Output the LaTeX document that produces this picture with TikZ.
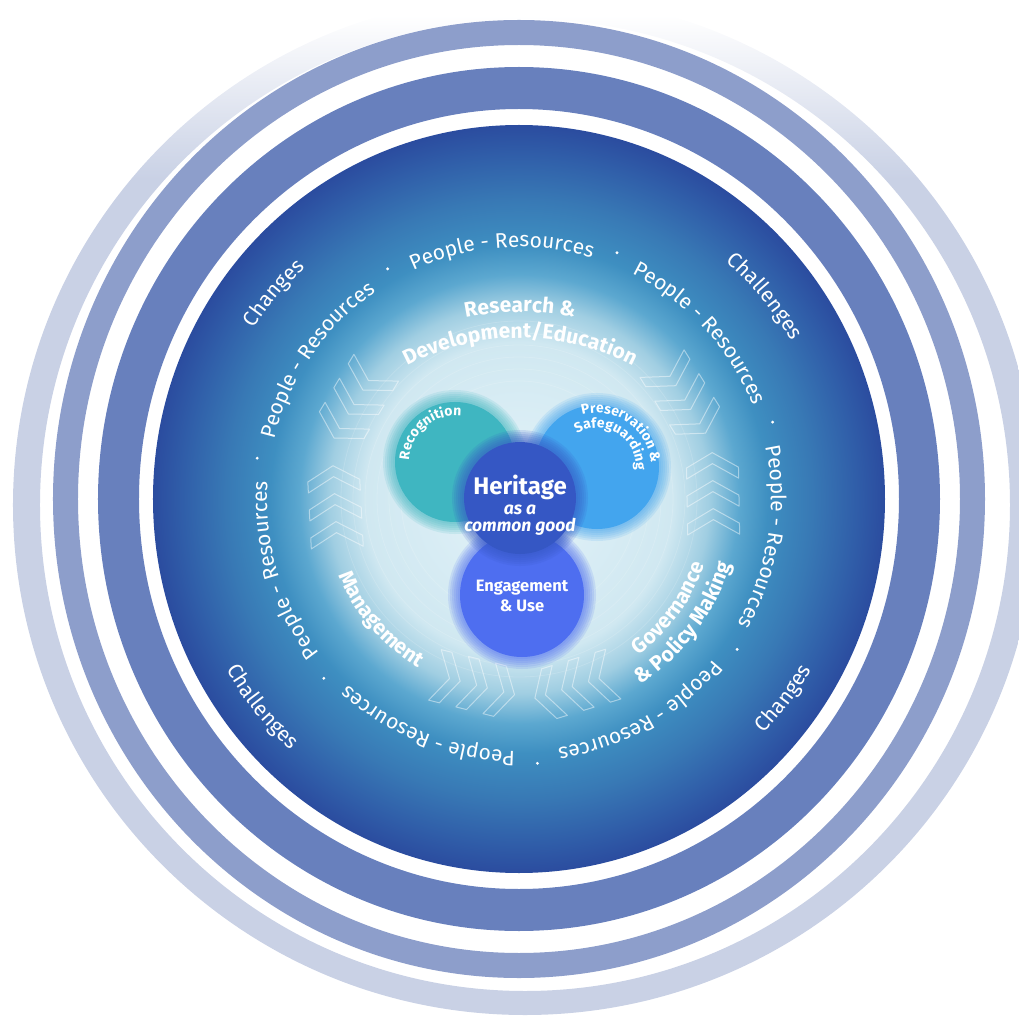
\documentclass[tikz,border=0pt]{standalone}
\usepackage{fontspec}
\setmainfont{Fira Sans}
\usepackage{tikz}
\usetikzlibrary{decorations.text,positioning}
\usepackage{xcolor}
\definecolor{hcpale}{RGB}{201,209,229}
\definecolor{hclight}{RGB}{141,158,203}
\definecolor{hcmid}{RGB}{104,128,189}
\definecolor{hcdark}{RGB}{43,76,159}
\definecolor{hcdeep}{RGB}{48,94,169}
\definecolor{hcsea}{RGB}{56,121,181}
\definecolor{hcocean}{RGB}{62,143,193}
\definecolor{hcwave}{RGB}{92,168,208}
\definecolor{hcmist}{RGB}{160,206,226}
\definecolor{hcfog}{RGB}{208,232,241}
\definecolor{hccore}{RGB}{228,243,249}
\definecolor{hcteal}{RGB}{63,182,193}
\definecolor{hcsky}{RGB}{67,165,238}
\definecolor{hcroyal}{RGB}{53,87,196}
\definecolor{hcperi}{RGB}{78,110,240}
\pgfdeclareradialshading{discglow}{\pgfpointorigin}{color(0bp)=(hccore); color(10.5bp)=(hcfog); color(13bp)=(hcmist); color(15bp)=(hcwave); color(17bp)=(hcocean); color(20bp)=(hcsea); color(23bp)=(hcdeep); color(25bp)=(hcdark); color(50bp)=(hcdark)}
\pgfdeclareverticalshading{ringfade}{100bp}{color(0bp)=(hcpale); color(66bp)=(hcpale); color(74bp)=(white); color(100bp)=(white)}
\newcommand{\ringfont}{\fontsize{21}{25}\selectfont}
\newcommand{\labfont}{\bfseries\fontsize{21}{25}\selectfont}
\newcommand{\venfont}{\bfseries\fontsize{14}{16}\selectfont}
\tikzstyle{chevline} = [draw=white, draw opacity=.45, line width=1pt, line join=round]
\tikzstyle{midtext} = [text=white, inner sep=0pt]
\tikzset{arctext/.style={decorate, decoration={text along path, text align=center, text color=white, text={#1}}}}
\newcommand{\chevrons}[3]{%
  \begin{scope}[shift={(#1:#2)}, rotate=#3]
    \foreach \s in {-28,0,28}
      \draw[chevline, xshift=\s pt] (-11,-26) -- (0,-26) -- (15,0) -- (0,26) -- (-11,26) -- (4,0) -- cycle;
  \end{scope}}
\newcommand{\softdisc}[3]{%
  \foreach \k in {12,10,...,2}
    \fill[#1, opacity=.14] (#2) circle (#3+\k);
  \fill[#1] (#2) circle (#3);}

\begin{document}
\begin{tikzpicture}[x=1pt, y=1pt]
\useasboundingbox (-519,-521) rectangle (499,499);
% Rings
\shade[shading=ringfade, even odd rule] (6,-6) ellipse [x radius=512pt, y radius=510pt] (6,-6) ellipse [x radius=485pt, y radius=486pt];
\fill[hclight, even odd rule] (0,0) ellipse [x radius=466pt, y radius=479pt] (0,0) ellipse [x radius=441pt, y radius=454pt];
\fill[hcmid, even odd rule] (0,0) ellipse [x radius=421pt, y radius=432pt] (0,0) ellipse [x radius=380pt, y radius=390pt];
\shade[shading=discglow] (0,0) ellipse [x radius=366pt, y radius=374pt];
\foreach \r in {118,130,...,178}
  \draw[white, opacity=.15, line width=.8pt] (0,0) circle (\r pt);

% People - Resources
\foreach \a in {94,42.57,-8.86,-60.29,-111.71,-163.14,145.43}
  \path[arctext={|\ringfont|People - Resources}] (\a+30:252pt) arc [start angle=\a+30, end angle=\a-30, radius=252pt];
\foreach \a in {119.71,68.29,16.86,-34.57,-86,-137.43,171.14}
  \fill[white] (\a:265pt) circle (1.6pt);

% Changes and challenges
\path[arctext={|\ringfont|Changes}] (160:315pt) arc [start angle=160, end angle=120, radius=315pt];
\path[arctext={|\ringfont|Challenges}] (60:315pt) arc [start angle=60, end angle=19, radius=315pt];
\path[arctext={|\ringfont|Challenges}] (199:339pt) arc [start angle=199, end angle=239, radius=339pt];
\path[arctext={|\ringfont|Changes}] (-57:339pt) arc [start angle=-57, end angle=-17, radius=339pt];

% Activities
\path[arctext={|\labfont|Research {\&}}] ([shift={(1,-81)}]115:268pt) arc [start angle=115, end angle=65, radius=268pt];
\path[arctext={|\labfont|Development/Education}] ([shift={(1,-81)}]125:242pt) arc [start angle=125, end angle=55, radius=242pt];
\path[arctext={|\labfont|Management}] (190:196pt) arc [start angle=190, end angle=252, radius=196pt];
\path[arctext={|\labfont|Governance}] (-66:197pt) arc [start angle=-66, end angle=-6, radius=197pt];
\path[arctext={|\labfont|{\&} Policy Making}] (-72:222pt) arc [start angle=-72, end angle=-2, radius=222pt];

% Chevrons
\chevrons{149}{190}{239}
\chevrons{183}{184}{93}
\chevrons{32}{193}{-58}
\chevrons{1}{194}{91}
\chevrons{256}{191}{346}
\chevrons{287}{195}{197}

% Venn circles
\softdisc{hcteal}{-64,37}{60}
\softdisc{hcsky}{78,32}{62}
\softdisc{hcperi}{3,-96}{62}
\softdisc{hcroyal}{1,1}{56}

\path[arctext={|\venfont|Recognition}] ([shift={(-64,37)}]190:46pt) arc [start angle=190, end angle=70, radius=46pt];
\path[arctext={|\venfont|Preservation {\&}}] ([shift={(78,32)}]120:54pt) arc [start angle=120, end angle=-10, radius=54pt];
\path[arctext={|\venfont|Safeguarding}] ([shift={(78,32)}]135:39pt) arc [start angle=135, end angle=-19, radius=39pt];

\node[midtext, font=\bfseries\fontsize{24}{27}\selectfont] (heritage) at (1,12) {Heritage};
\node[midtext, font=\bfseries\itshape\fontsize{17.5}{19}\selectfont, below=5pt of heritage] (asa) {as a};
\node[midtext, font=\bfseries\itshape\fontsize{17.5}{19}\selectfont, below=3pt of asa] (common) {common good};
\node[midtext, font=\bfseries\fontsize{16.5}{18}\selectfont] (engage) at (3,-89) {Engagement};
\node[midtext, font=\bfseries\fontsize{16.5}{18}\selectfont, below=4pt of engage] (use) {\& Use};
\end{tikzpicture}
\end{document}
